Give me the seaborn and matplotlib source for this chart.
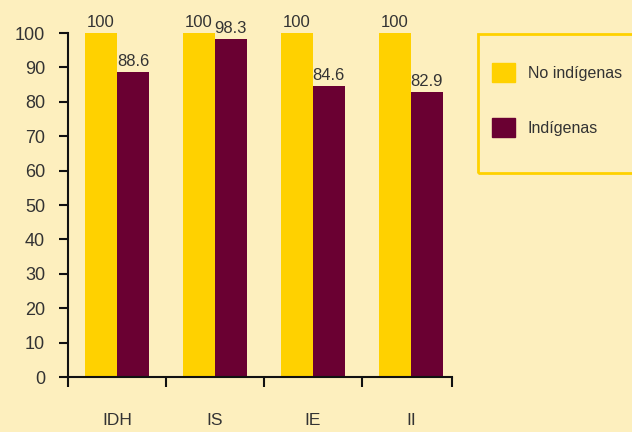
#!/usr/bin/env python3

import pandas as pd
import matplotlib.pyplot as plt
import matplotlib.patches as mpatches
import seaborn as sns

# Data
categories = ["IDH", "IS", "IE", "II"]
no_indigenas = [100, 100, 100, 100]
indigenas = [88.6, 98.3, 84.6, 82.9]
series_names = ["No indígenas", "Indígenas"]

BG = "#FDEFBE"
YELLOW = "#FFD100"
MAROON = "#6A0032"
TEXT = "#333333"

sns.set_theme(style="white")
plt.rcParams["font.family"] = ["Liberation Sans", "DejaVu Sans"]

df = pd.DataFrame({
    "categoria": categories * 2,
    "valor": no_indigenas + indigenas,
    "grupo": [series_names[0]] * len(categories) + [series_names[1]] * len(categories),
})

fig = plt.figure(figsize=(6.32, 4.32), dpi=100, facecolor=BG)
ax = fig.add_axes([68 / 632, 55 / 432, 384 / 632, 344 / 432])
ax.set_facecolor(BG)

sns.barplot(data=df, x="categoria", y="valor", hue="grupo",
            palette=[YELLOW, MAROON], width=0.65, gap=0,
            saturation=1, linewidth=0, ax=ax, legend=False)

# Value labels above bars
for cont in ax.containers:
    ax.bar_label(cont, labels=[f"{b.get_height():g}" for b in cont],
                 padding=2, fontsize=12, color=TEXT, clip_on=False)

ax.set_ylim(0, 100)
ax.set_xlim(-0.5, 3.42)
ax.set_yticks(range(0, 101, 10))
ax.set_xlabel("")
ax.set_ylabel("")

# Major ticks on group boundaries, labels on minor ticks at centers
ax.set_xticks([-0.5, 0.5, 1.5, 2.5, 3.42])
ax.set_xticklabels([])
ax.set_xticks(range(len(categories)), minor=True)
ax.set_xticklabels(categories, minor=True)

ax.tick_params(axis="y", direction="out", length=6.5, width=1.5,
               pad=10, labelsize=13, colors="#111111", labelcolor=TEXT, left=True)
ax.tick_params(axis="x", which="major", direction="out", length=7, width=1.5,
               color="#111111", bottom=True)
ax.tick_params(axis="x", which="minor", length=0, pad=26, labelsize=12.5,
               labelcolor=TEXT)

for side in ["top", "right"]:
    ax.spines[side].set_visible(False)
for side in ["left", "bottom"]:
    ax.spines[side].set_color("#111111")
    ax.spines[side].set_linewidth(1.5)

# Legend box
box = mpatches.Rectangle((478 / 632, 259 / 432), 0.26, 139 / 432,
                         transform=fig.transFigure, facecolor="none",
                         edgecolor=YELLOW, linewidth=2, clip_on=False)
fig.patches.append(box)

handles = [mpatches.Patch(color=YELLOW, label=series_names[0]),
           mpatches.Patch(color=MAROON, label=series_names[1])]
fig.legend(handles=handles, loc="upper left",
           bbox_to_anchor=(492 / 632, (432 - 63) / 432),
           frameon=False, fontsize=11.5, labelcolor=TEXT,
           handlelength=1.45, handleheight=1.45, handletextpad=0.8,
           labelspacing=2.25, borderpad=0, borderaxespad=0)

plt.savefig("out.png", dpi=100, facecolor=BG)
